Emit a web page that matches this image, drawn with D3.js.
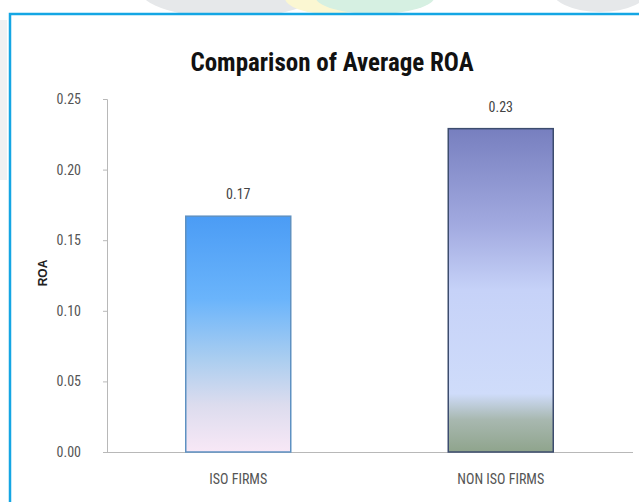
<!DOCTYPE html>
<html><head><meta charset="utf-8">
<script src="https://cdn.jsdelivr.net/npm/d3@7"></script>
<style>html,body{margin:0;padding:0;background:#fff;}svg{display:block;}</style>
</head><body>
<svg id="c" width="639" height="502"></svg>
<script>
const categories = ["ISO FIRMS", "NON ISO FIRMS"];
const roaValues = [0.167, 0.229];
const valueLabels = ["0.17", "0.23"];
const yTicks = [0, 0.05, 0.10, 0.15, 0.20, 0.25];
const chartTitle = "Comparison of Average ROA";
const yTitle = "ROA";

const svg = d3.select("#c");
const font = "'Liberation Sans Narrow','Roboto Condensed','Open Sans',sans-serif";

// watermark decorations outside the frame
const deco = svg.append("g");
deco.append("ellipse").attr("cx", 230).attr("cy", -10).attr("rx", 90).attr("ry", 28).attr("fill", "#e6e8ea");
deco.append("ellipse").attr("cx", 330).attr("cy", -2).attr("rx", 45).attr("ry", 16).attr("fill", "#fbf7d2");
deco.append("ellipse").attr("cx", 375).attr("cy", -4).attr("rx", 60).attr("ry", 18).attr("fill", "#d6f0e2");
deco.append("ellipse").attr("cx", 600).attr("cy", -12).attr("rx", 50).attr("ry", 24).attr("fill", "#e6e8ea");
deco.append("rect").attr("x", 0).attr("y", 20).attr("width", 7).attr("height", 160).attr("fill", "#f0f1f2");

// frame
svg.append("rect").attr("x", 10).attr("y", 14).attr("width", 640).attr("height", 500)
  .attr("fill", "#fff").attr("stroke", "#14a6e4").attr("stroke-width", 2.5);

const x = d3.scaleBand().domain(categories).range([107, 632]).paddingInner(0.6).paddingOuter(0.3);
const y = d3.scaleLinear().domain([0, 0.25]).range([452, 99]);

const defs = svg.append("defs");
const g1 = defs.append("linearGradient").attr("id", "g0").attr("x1", 0).attr("y1", 0).attr("x2", 0).attr("y2", 1);
[[0, "#4b9cf5"], [0.35, "#6ab4fb"], [0.6, "#a9cdf0"], [0.8, "#dcdcee"], [1, "#f8e8f6"]]
  .forEach(s => g1.append("stop").attr("offset", s[0]).attr("stop-color", s[1]));
const g2 = defs.append("linearGradient").attr("id", "g1").attr("x1", 0).attr("y1", 0).attr("x2", 0).attr("y2", 1);
[[0, "#777fbf"], [0.3, "#a2aae0"], [0.5, "#c6d2f8"], [0.82, "#cfdcfa"], [0.9, "#a8b8b0"], [1, "#8fa48c"]]
  .forEach(s => g2.append("stop").attr("offset", s[0]).attr("stop-color", s[1]));
const strokes = ["#5e91c2", "#3c4c6e"];

// title
svg.append("text").attr("x", 332).attr("y", 71).attr("text-anchor", "middle")
  .attr("font-family", font).attr("font-weight", "bold").attr("font-size", 25).attr("fill", "#111")
  .text(chartTitle);

// y axis
const yAxis = d3.axisLeft(y).tickValues(yTicks).tickFormat(d3.format(".2f")).tickSizeOuter(0).tickSize(4).tickPadding(22);
const ya = svg.append("g").attr("transform", "translate(107,0)").call(yAxis);
ya.select(".domain").attr("stroke", "#b8b8b8");
ya.selectAll(".tick line").attr("stroke", "#b8b8b8");
ya.selectAll(".tick text").attr("font-family", font).attr("font-size", 14).attr("fill", "#555");

// baseline x axis
const xAxis = d3.axisBottom(x).tickSize(0).tickPadding(22);
const xa = svg.append("g").attr("transform", "translate(0,452)").call(xAxis);
xa.select(".domain").attr("stroke", "#b8b8b8").attr("d", "M103,0.5H633");
xa.selectAll(".tick text").attr("font-family", font).attr("font-size", 14).attr("fill", "#555");

// bars
svg.selectAll("rect.bar").data(roaValues).join("rect").attr("class", "bar")
  .attr("x", (d, i) => x(categories[i]))
  .attr("y", d => y(d))
  .attr("width", x.bandwidth())
  .attr("height", d => y(0) - y(d))
  .attr("fill", (d, i) => `url(#g${i})`)
  .attr("stroke", (d, i) => strokes[i]).attr("stroke-width", 1.5);

// value labels
svg.selectAll("text.val").data(roaValues).join("text").attr("class", "val")
  .attr("x", (d, i) => x(categories[i]) + x.bandwidth() / 2)
  .attr("y", d => y(d) - 17)
  .attr("text-anchor", "middle").attr("font-family", font).attr("font-size", 14).attr("fill", "#444")
  .text((d, i) => valueLabels[i]);

// y title
svg.append("text").attr("transform", "translate(47,273) rotate(-90)").attr("text-anchor", "middle")
  .attr("font-family", "'Liberation Sans',Arial,sans-serif").attr("font-weight", "bold").attr("font-size", 12).attr("fill", "#222")
  .text(yTitle);
</script>
</body></html>
